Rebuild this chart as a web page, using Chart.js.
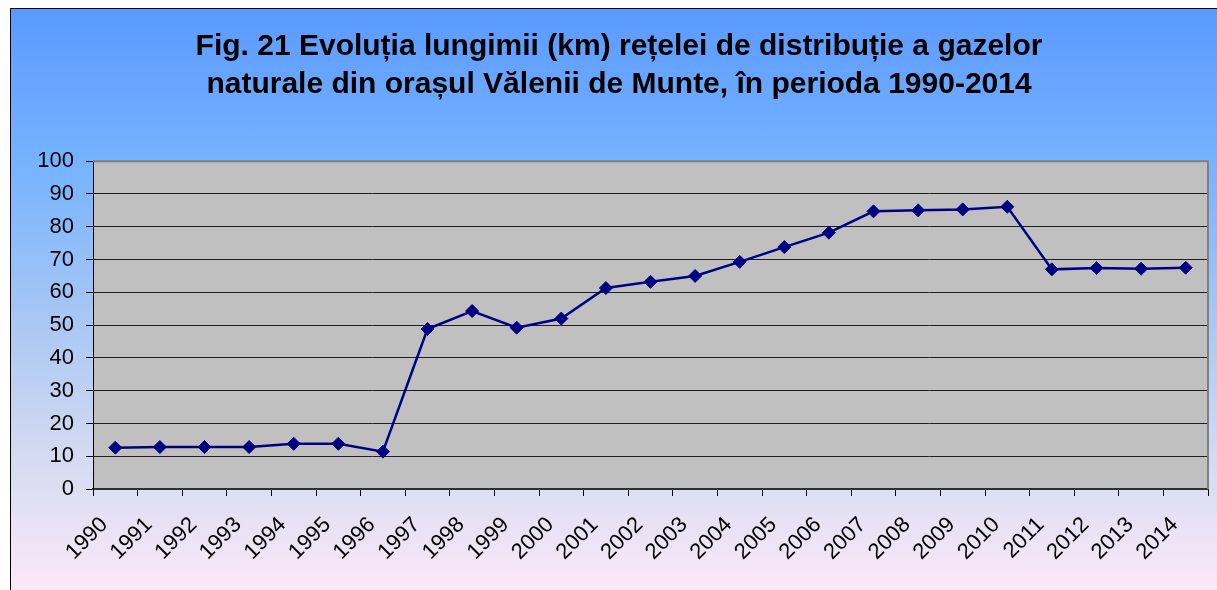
<!DOCTYPE html>
<html>
<head>
<meta charset="utf-8">
<script src="https://cdn.jsdelivr.net/npm/chart.js@4"></script>
<style>
  html, body { margin: 0; padding: 0; background: #fff; overflow: hidden; }
  #frame {
    position: absolute; left: 10px; top: 8px; width: 1300px; height: 582px;
    box-sizing: border-box;
    border-left: 1px solid #000; border-top: 1px solid #000;
    background: linear-gradient(to bottom, #5a9aff 0%, #78b4ff 28%, #a6c6f4 52%, #d6dbf1 78%, #fbe9f8 100%);
  }
  #wrap { position: absolute; left: 0; top: 0; width: 1216px; height: 581px; }
</style>
</head>
<body>
<div id="frame"><div id="wrap"><canvas id="chart"></canvas></div></div>
<script>
  // ── Data ─────────────────────────────────────────────
  const years = ['1990', '1991', '1992', '1993', '1994', '1995', '1996', '1997', '1998', '1999',
                 '2000', '2001', '2002', '2003', '2004', '2005', '2006', '2007', '2008', '2009',
                 '2010', '2011', '2012', '2013', '2014'];
  const lengthKm = [12.6, 12.8, 12.8, 12.8, 13.8, 13.8, 11.4, 48.8, 54.3, 49.2,
                    52.0, 61.3, 63.2, 65.0, 69.3, 73.8, 78.2, 84.7, 85.0, 85.3,
                    86.1, 67.0, 67.4, 67.2, 67.5];
  const titleLines = ['Fig. 21 Evoluția lungimii (km) rețelei de distribuție a gazelor',
                      'naturale din orașul Vălenii de Munte, în perioda 1990-2014'];

  Chart.defaults.font.family = '"Liberation Sans", Arial, sans-serif';
  Chart.defaults.color = '#000';

  // grey plot area + grey top/right frame
  const plotBg = {
    id: 'plotBg',
    beforeDraw(chart) {
      const { ctx, chartArea: a } = chart;
      ctx.save();
      ctx.fillStyle = '#c0c0c0';
      ctx.fillRect(a.left, a.top, a.right - a.left, a.bottom - a.top);
      ctx.restore();
    },
    beforeDatasetsDraw(chart) {
      const { ctx, chartArea: a } = chart;
      ctx.save();
      ctx.strokeStyle = '#808080';
      ctx.lineWidth = 2;
      ctx.beginPath();
      ctx.moveTo(a.left, a.top); ctx.lineTo(a.right, a.top); ctx.lineTo(a.right, a.bottom);
      ctx.stroke();
      ctx.restore();
    }
  };

  new Chart(document.getElementById('chart'), {
    type: 'line',
    data: {
      labels: years,
      datasets: [{
        data: lengthKm,
        borderColor: '#000080', borderWidth: 2.5,
        pointStyle: 'rectRot', pointRadius: 6.5,
        pointBackgroundColor: '#000080', pointBorderColor: '#000080', pointBorderWidth: 1,
        tension: 0
      }]
    },
    options: {
      responsive: true, maintainAspectRatio: false, animation: false,
      layout: { padding: { left: 19, right: 19, top: 0, bottom: 0 } },
      plugins: {
        legend: { display: false }, tooltip: { enabled: false },
        title: {
          display: true, text: titleLines, color: '#000',
          font: { size: 30, weight: 'bold', lineHeight: 1.27 },
          padding: { top: 19, bottom: 57 }
        }
      },
      scales: {
        x: {
          offset: true,
          grid: { offset: true, drawOnChartArea: false, drawTicks: true, tickLength: 7, color: '#000' },
          border: { display: true, color: '#303030', width: 2 },
          ticks: { font: { size: 22 }, minRotation: 45, maxRotation: 45, autoSkip: false,
                   padding: 16, labelOffset: -11, color: '#000' },
          afterFit(s) { s.height = 101; }
        },
        y: {
          min: 0, max: 100,
          grid: {
            color: ctx => ctx.tick && ctx.tick.value === 100 ? 'rgba(0,0,0,0)' : '#202020',
            tickColor: '#000', tickLength: 7, lineWidth: 1
          },
          border: { display: true, color: '#000', width: 1 },
          ticks: { stepSize: 10, font: { size: 22 }, padding: 12, color: '#000' },
          afterFit(s) { s.width = 63; }
        }
      }
    },
    plugins: [plotBg]
  });
</script>
</body>
</html>
